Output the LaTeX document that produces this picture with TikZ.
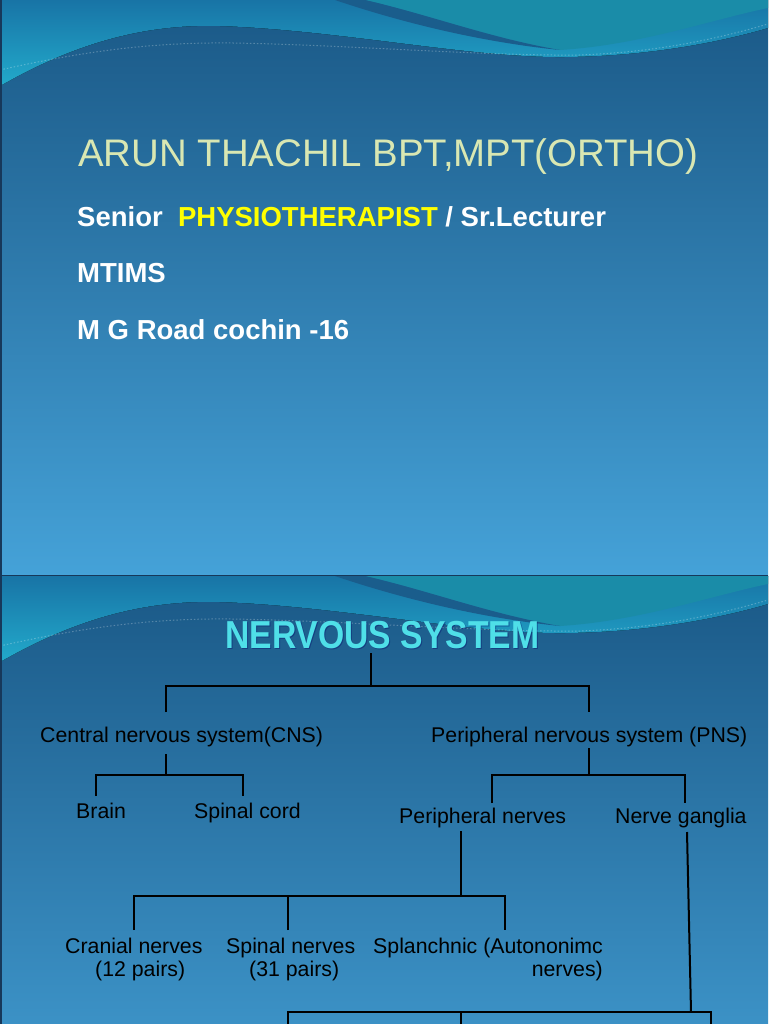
\documentclass[tikz,border=0pt]{standalone}
\usepackage{fontspec}
\setmainfont{Liberation Sans}
\definecolor{mtop}{HTML}{1A5886}
\definecolor{mmid}{HTML}{2A78AE}
\definecolor{mbot}{HTML}{45A2D8}
\definecolor{wA}{HTML}{1874A6}
\definecolor{wB}{HTML}{22AACB}
\definecolor{wT}{HTML}{1A8CA8}
\definecolor{wS}{HTML}{1A5D8C}
\definecolor{ttl}{HTML}{D9E7B2}
\definecolor{cyanttl}{HTML}{4FDFE8}
\definecolor{ylw}{HTML}{FFFF00}
\definecolor{edge}{HTML}{17385A}
\newcommand\mywaves{%
  \fill[top color=wA, bottom color=wB] (0,0) -- (0,86) .. controls (80,40) and (150,24) .. (220,26)
     .. controls (340,30) and (470,58) .. (565,57) .. controls (650,56) and (720,42) .. (768,28) -- (768,0) -- cycle;
  \fill[wT] (365,0) .. controls (430,15) and (490,38) .. (560,50) .. controls (640,45) and (710,20) .. (768,8) -- (768,0) -- cycle;
  \fill[wS] (335,0) -- (365,0) .. controls (430,15) and (490,38) .. (560,50) .. controls (480,42) and (400,22) .. (335,0) -- cycle;
  \draw[white, opacity=.25, line width=1pt, dash pattern=on 1.5pt off 2pt] (0,70) .. controls (80,52) and (150,42) .. (233,43)
     .. controls (350,45) and (480,56) .. (580,55) .. controls (660,52) and (720,38) .. (768,24);
}
\begin{document}
\begin{tikzpicture}[x=1pt,y=-1pt,
  tl/.style={line width=2pt,black},
  lbl/.style={inner sep=0pt,anchor=base west,font=\fontsize{21.3}{25}\selectfont,text=black},
  hd/.style={inner sep=0pt,anchor=base west,font=\bfseries\fontsize{27.5}{30}\selectfont,text=white}]
\useasboundingbox (0,0) rectangle (768,1024);
\clip (0,0) rectangle (768,1024);
% ---------- slide 1 ----------
\fill[top color=mtop, middle color=mmid, bottom color=mbot] (0,0) rectangle (768,576);
\mywaves
\draw[edge, line width=1.5pt] (0.75,0) -- (0.75,576);
% ---------- slide 2 ----------
\begin{scope}[shift={(0,576)}]
\fill[top color=mtop, middle color=mmid, bottom color=mbot] (0,0) rectangle (768,576);
\mywaves
\draw[edge, line width=1.5pt] (0.75,0) -- (0.75,576);
\end{scope}
\draw[edge, line width=1.2pt] (0,575.5) -- (768,575.5);
% ---------- slide 1 text ----------
\node[inner sep=0pt, anchor=base west, text=ttl, font=\fontsize{38.4}{40}\selectfont] (name) at (78,167) {ARUN THACHIL BPT,MPT(ORTHO)};
\node[hd] (role) at (77,226) {Senior\ \ \textcolor{ylw}{PHYSIOTHERAPIST} / Sr.Lecturer};
\node[hd] (mtims) at (77,282) {MTIMS};
\node[hd] (addr) at (77,339) {M G Road cochin -16};
% ---------- slide 2 title ----------
\node[inner sep=0pt, anchor=base west, xscale=0.865, text=black!60!blue, opacity=.35, font=\bfseries\fontsize{39}{40}\selectfont] (nsshadow) at (226,649) {NERVOUS SYSTEM};
\node[inner sep=0pt, anchor=base west, xscale=0.865, text=cyanttl, font=\bfseries\fontsize{39}{40}\selectfont] (ns) at (225,648) {NERVOUS SYSTEM};
% ---------- tree labels ----------
\node[lbl] (cns) at (40,742) {Central nervous system(CNS)};
\node[lbl] (pns) at (431,742) {Peripheral nervous system (PNS)};
\node[lbl] (brain) at (76,818) {Brain};
\node[lbl] (cord) at (194,818) {Spinal cord};
\node[lbl] (pnerves) at (399,823) {Peripheral nerves};
\node[lbl] (ganglia) at (615,823) {Nerve ganglia};
\node[lbl] (cranial) at (65,953) {Cranial nerves};
\node[lbl] (cranial2) at (95,976) {(12 pairs)};
\node[lbl] (spinal) at (226,953) {Spinal nerves};
\node[lbl] (spinal2) at (249,976) {(31 pairs)};
\node[lbl] (splanch) at (373,953) {Splanchnic (Autononimc};
\node[lbl, anchor=base east] (splanch2) at (603,976) {nerves)};
% ---------- connector points ----------
\coordinate (nsB) at (371,653);
\coordinate (jTop) at (371,686);
\coordinate (cnsT) at (166,712);
\coordinate (pnsT) at (589,712);
\coordinate (cnsB) at (166,754);
\coordinate (jCns) at (166,775);
\coordinate (brainT) at (96,796);
\coordinate (cordT) at (243,796);
\coordinate (pnsB) at (589,748);
\coordinate (jPns) at (589,775);
\coordinate (pnervT) at (492,803);
\coordinate (gangT) at (685,803);
\coordinate (pnervB) at (461,831);
\coordinate (jPn) at (461,896);
\coordinate (cranT) at (134,930);
\coordinate (spinT) at (288,930);
\coordinate (splT) at (505,930);
\coordinate (gangB) at (687,832);
\coordinate (jG) at (691,1012);
\coordinate (g1) at (288,1030);
\coordinate (g2) at (461,1030);
\coordinate (g3) at (711,1030);
% ---------- connectors ----------
\draw[tl] (nsB) -- (jTop);
\draw[tl] (cnsT) -- (cnsT |- jTop) -- (pnsT |- jTop) -- (pnsT);
\draw[tl] (cnsB) -- (jCns);
\draw[tl] (brainT) -- (brainT |- jCns) -- (cordT |- jCns) -- (cordT);
\draw[tl] (pnsB) -- (jPns);
\draw[tl] (pnervT) -- (pnervT |- jPns) -- (gangT |- jPns) -- (gangT);
\draw[tl] (pnervB) -- (jPn);
\draw[tl] (cranT) -- (cranT |- jPn) -- (splT |- jPn) -- (splT);
\draw[tl] (spinT) -- (spinT |- jPn);
\draw[tl] (gangB) -- (jG);
\draw[tl] (g1) -- (g1 |- jG) -- (g3 |- jG) -- (g3);
\draw[tl] (g2) -- (g2 |- jG);
\end{tikzpicture}
\end{document}
